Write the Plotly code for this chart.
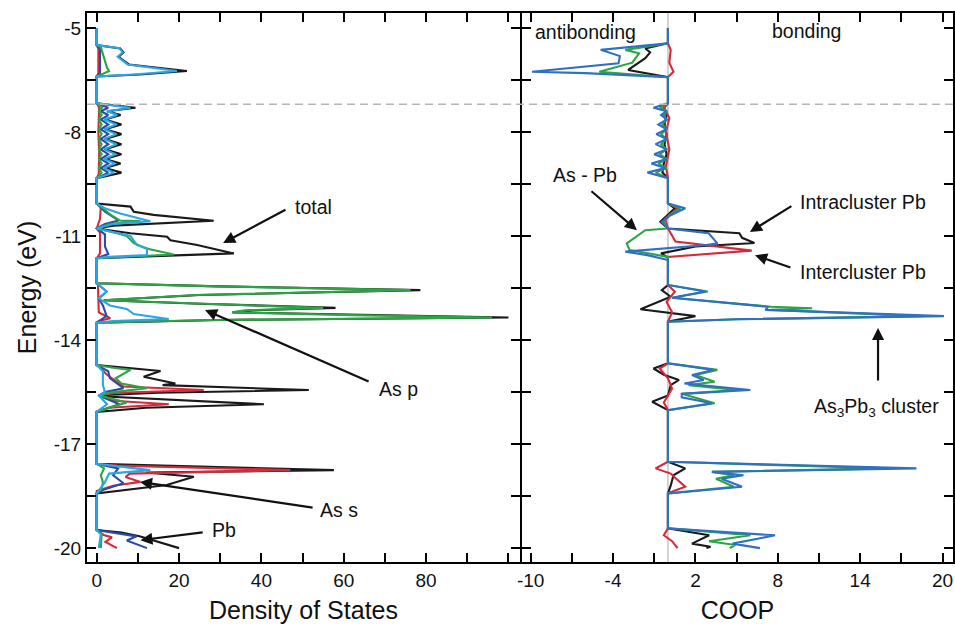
import plotly.graph_objects as go

# ---------------- axis ticks ----------------
energy_ticks = [-5, -6.5, -8, -9.5, -11, -12.5, -14, -15.5, -17, -18.5, -20]
energy_labels = ['-5', '', '-8', '', '-11', '', '-14', '', '-17', '', '-20']
dos_ticks = [0, 10, 20, 30, 40, 50, 60, 70, 80, 90, 100]
dos_labels = ['0', '', '20', '', '40', '', '60', '', '80', '', '']
coop_ticks = [-10, -7, -4, -1, 2, 5, 8, 11, 14, 17, 20]
coop_labels = ['-10', '', '-4', '', '2', '', '8', '', '14', '', '20']
fermi_level = -7.2

# ---------------- DOS curves: (energy eV, DOS) ----------------
dos_total = [(-5.0, 0), (-5.49, 0), (-5.59, 5.7), (-5.70, 6.5), (-5.83, 5.3), (-6.05, 7.8), (-6.24, 21.9), (-6.34, 10.5), (-6.40, 0),
             (-7.17, 0), (-7.30, 9.4), (-7.40, 2.5), (-7.51, 5.8), (-7.64, 2.0), (-7.78, 6.0), (-7.92, 2.0), (-8.06, 6.0), (-8.20, 2.0),
             (-8.35, 6.0), (-8.50, 2.0), (-8.64, 6.0), (-8.78, 2.0), (-8.91, 5.8), (-9.04, 2.0), (-9.17, 6.0), (-9.33, 0),
             (-10.06, 0), (-10.15, 8.2), (-10.30, 9.0), (-10.39, 13.8), (-10.56, 28.4), (-10.70, 4.0), (-10.78, 0), (-10.92, 8.2),
             (-11.02, 17.1), (-11.12, 17.9), (-11.26, 24.4), (-11.50, 33.3), (-11.58, 14.0), (-11.64, 0),
             (-12.36, 0), (-12.45, 30), (-12.56, 78.6), (-12.70, 25), (-12.85, 1.7), (-12.95, 25), (-13.07, 58), (-13.14, 38),
             (-13.20, 33), (-13.28, 65), (-13.35, 100), (-13.42, 30), (-13.50, 0),
             (-14.72, 0), (-14.89, 15.5), (-15.06, 11.4), (-15.25, 19.1), (-15.30, 16), (-15.44, 51.5), (-15.52, 15), (-15.59, 1),
             (-15.62, 1), (-15.85, 40.6), (-15.95, 12), (-16.07, 0),
             (-17.57, 0), (-17.65, 25), (-17.75, 57.6), (-17.82, 12), (-17.94, 23.6), (-18.18, 17), (-18.42, 0),
             (-19.48, 0), (-19.55, 6), (-19.66, 10.4), (-20.0, 20)]

dos_as_s = [(-5.0, 0), (-5.49, 0), (-5.60, 0.4), (-6.30, 0.4), (-6.40, 0),
            (-7.17, 0), (-7.30, 0.6), (-8.00, 0.4), (-8.60, 0.6), (-9.20, 0.5), (-9.33, 0),
            (-10.06, 0), (-10.15, 1.0), (-10.50, 0.8), (-10.78, 0), (-10.90, 0.8), (-11.50, 0.8), (-11.64, 0),
            (-12.36, 0), (-12.40, 0.3), (-13.20, 0.5), (-13.37, 3.3), (-13.45, 0.5), (-13.50, 0),
            (-14.72, 0), (-14.80, 0.8), (-15.00, 2.5), (-15.34, 6.5), (-15.44, 26), (-15.52, 5), (-15.59, 0.5), (-15.75, 4),
            (-15.85, 17.5), (-15.95, 3), (-16.07, 0),
            (-17.57, 0), (-17.62, 5), (-17.75, 47), (-17.85, 8), (-17.95, 7), (-18.09, 10.6), (-18.20, 4), (-18.35, 0),
            (-19.48, 0), (-19.62, 1.7), (-19.69, 3.7), (-19.82, 2.1), (-20.0, 4.9)]

dos_pb = [(-5.0, 0), (-5.49, 0), (-5.60, 0.8), (-6.30, 0.8), (-6.40, 0),
          (-7.17, 0), (-7.30, 2.8), (-7.40, 1.0), (-7.51, 2.8), (-7.64, 1.0), (-7.78, 2.8), (-7.92, 1.0), (-8.06, 2.8), (-8.20, 1.0),
          (-8.35, 2.8), (-8.50, 1.0), (-8.64, 2.8), (-8.78, 1.0), (-8.91, 2.8), (-9.04, 1.0), (-9.17, 2.8), (-9.33, 0),
          (-10.06, 0), (-10.30, 2.0), (-10.55, 5.3), (-10.65, 2.0), (-10.78, 0), (-10.95, 2.0), (-11.30, 2.0), (-11.52, 2.8), (-11.64, 0),
          (-12.36, 0), (-12.60, 2.4), (-12.80, 0.5), (-13.00, 1.5), (-13.30, 2.4), (-13.50, 0),
          (-14.72, 0), (-14.90, 2.8), (-15.10, 3.2), (-15.39, 6.5), (-15.50, 2.0), (-15.60, 0.5), (-15.85, 5.5), (-16.07, 0),
          (-17.57, 0), (-17.70, 5.2), (-17.90, 4.0), (-18.13, 6.5), (-18.30, 2.0), (-18.42, 0),
          (-19.48, 0), (-19.66, 9.7), (-19.78, 7.3), (-20.0, 12.2)]

dos_as_p = [(-5.0, 0), (-5.49, 0), (-5.55, 1.0), (-5.90, 1.8), (-6.15, 2.5), (-6.24, 3.0), (-6.40, 0),
            (-7.17, 0), (-7.30, 1.3), (-7.40, 0.5), (-7.51, 1.2), (-7.64, 0.5), (-7.78, 1.2), (-7.92, 0.5), (-8.06, 1.2), (-8.20, 0.5),
            (-8.35, 1.2), (-8.50, 0.5), (-8.64, 1.2), (-8.78, 0.5), (-8.91, 1.2), (-9.04, 0.5), (-9.17, 1.2), (-9.33, 0),
            (-10.06, 0), (-10.20, 1.5), (-10.40, 3.5), (-10.55, 5.6), (-10.57, 10.6), (-10.65, 3.0), (-10.78, 0), (-10.92, 5.0),
            (-11.00, 7.3), (-11.20, 9.0), (-11.35, 11.8), (-11.53, 18.7), (-11.60, 5.0), (-11.64, 0),
            (-12.36, 0), (-12.45, 29), (-12.56, 76.2), (-12.70, 24), (-12.85, 1.7), (-12.95, 24), (-13.07, 55), (-13.14, 36),
            (-13.20, 32.9), (-13.28, 62), (-13.35, 96), (-13.42, 28), (-13.50, 0),
            (-14.72, 0), (-14.80, 4.0), (-14.86, 8.2), (-15.10, 4.6), (-15.25, 6.0), (-15.39, 12.2), (-15.50, 4.0), (-15.59, 0.5),
            (-15.80, 7.3), (-15.95, 3.0), (-16.07, 0),
            (-17.57, 0), (-17.70, 1.8), (-17.90, 1.0), (-18.10, 1.5), (-18.30, 1.2), (-18.42, 0),
            (-19.48, 0), (-19.60, 1.2), (-20.0, 1.0)]

dos_as = [(-5.0, 0), (-5.49, 0), (-5.58, 5.5), (-5.70, 6.3), (-5.83, 5.1), (-6.05, 7.5), (-6.24, 19.5), (-6.34, 9.0), (-6.40, 0),
          (-7.17, 0), (-7.30, 8.2), (-7.40, 2.5), (-7.51, 5.0), (-7.64, 1.8), (-7.78, 4.8), (-7.92, 1.8), (-8.06, 4.8), (-8.20, 1.8),
          (-8.35, 4.8), (-8.50, 1.8), (-8.64, 4.6), (-8.78, 1.8), (-8.91, 4.4), (-9.04, 1.8), (-9.17, 4.2), (-9.33, 0),
          (-10.06, 0), (-10.20, 2.0), (-10.35, 5.7), (-10.57, 13.0), (-10.65, 4.0), (-10.78, 0), (-11.00, 8.2), (-11.26, 9.8),
          (-11.35, 12.2), (-11.55, 12.2), (-11.60, 3.0), (-11.64, 0),
          (-12.36, 0), (-12.60, 2.4), (-12.80, 0.5), (-13.00, 3.2), (-13.10, 7.3), (-13.25, 9.0), (-13.39, 17.5), (-13.45, 4.0), (-13.50, 0),
          (-14.72, 0), (-14.90, 1.5), (-15.30, 1.5), (-15.50, 2.0), (-15.60, 0.5), (-15.85, 2.5), (-16.07, 0),
          (-17.57, 0), (-17.75, 13.0), (-17.85, 3.0), (-18.10, 2.0), (-18.42, 0),
          (-19.48, 0), (-19.60, 1.0), (-20.0, 0.5)]

# ---------------- COOP curves: (energy eV, COOP) ----------------
coop_black = [(-5.0, 0), (-5.44, 0), (-5.59, -1.65), (-5.70, -1.3), (-5.87, -1.65), (-6.21, -2.9), (-6.42, 0),
              (-7.17, 0), (-7.30, -0.3), (-7.51, -0.1), (-7.78, -0.25), (-8.06, -0.1), (-8.35, -0.25), (-8.64, -0.1),
              (-8.91, -0.3), (-9.17, -0.4), (-9.33, 0),
              (-10.06, 0), (-10.20, 0.5), (-10.59, -0.55), (-10.78, 0), (-10.92, 5.2), (-11.05, 5.4), (-11.20, 6.3),
              (-11.30, 2.0), (-11.50, -0.5), (-11.62, 0),
              (-12.41, 0), (-12.56, -0.45), (-12.75, 0.2), (-13.11, -2.0), (-13.20, -0.3), (-13.31, 2.0), (-13.47, 0),
              (-14.67, 0), (-14.82, -1.05), (-15.00, -0.3), (-15.15, 0.8), (-15.30, 0.2), (-15.60, 0), (-15.78, -1.15), (-16.02, 0),
              (-17.51, 0), (-17.70, 1.26), (-17.90, 0.4), (-18.20, 0.2), (-18.42, 0),
              (-19.43, 0), (-19.63, 3.0), (-19.87, 1.75), (-19.96, 3.1), (-20.0, 2.8)]

coop_red = [(-5.0, 0), (-5.44, 0), (-5.63, 0.2), (-6.00, 0.1), (-6.26, 0.4), (-6.42, 0),
            (-7.17, 0), (-7.27, -0.3), (-7.60, 0.1), (-8.00, -0.15), (-8.50, 0.1), (-9.00, -0.15), (-9.33, 0),
            (-10.06, 0), (-10.20, 0.7), (-10.50, -0.2), (-10.78, 0), (-11.16, 0.55), (-11.42, 6.1), (-11.60, 0),
            (-12.41, 0), (-12.60, 0.5), (-12.90, -0.1), (-13.20, 0.3), (-13.47, 0),
            (-14.67, 0), (-14.82, -0.6), (-15.10, 0), (-15.40, 0.3), (-15.80, -0.3), (-16.02, 0),
            (-17.51, 0), (-17.70, -0.9), (-17.85, 0.2), (-18.00, 0.6), (-18.23, 1.26), (-18.42, 0),
            (-19.43, 0), (-19.63, -0.3), (-19.80, 0.3), (-20.0, 0.7)]

coop_green = [(-5.0, 0), (-5.44, 0), (-5.63, -3.1), (-5.73, -2.1), (-6.00, -2.6), (-6.26, -5.0), (-6.42, 0),
              (-7.17, 0), (-7.30, -0.6), (-7.40, -0.1), (-7.51, -0.3), (-7.64, -0.1), (-7.78, -0.4), (-7.92, -0.1), (-8.06, -0.5),
              (-8.20, -0.1), (-8.35, -0.5), (-8.50, -0.1), (-8.64, -0.6), (-8.78, -0.1), (-8.91, -0.7), (-9.04, -0.1), (-9.17, -0.9), (-9.33, 0),
              (-10.06, 0), (-10.20, 0.9), (-10.40, 0.1), (-10.59, -0.3), (-10.78, 0), (-10.83, -1.65), (-11.21, -3.0), (-11.40, -2.8), (-11.60, 0),
              (-12.41, 0), (-12.60, 2.9), (-12.78, 0.3), (-13.04, 7.5), (-13.08, 10.5), (-13.13, 7.5), (-13.31, 18.5), (-13.40, 5.0), (-13.47, 0),
              (-14.67, 0), (-14.86, 3.6), (-15.01, 2.0), (-15.20, 3.4), (-15.30, 1.5), (-15.44, 5.0), (-15.55, 1.0), (-15.82, 3.4), (-16.02, 0),
              (-17.51, 0), (-17.70, 16.0), (-17.80, 3.2), (-17.90, 4.8), (-18.00, 3.5), (-18.23, 4.8), (-18.42, 0),
              (-19.43, 0), (-19.63, 6.0), (-19.80, 3.0), (-19.91, 4.9), (-20.0, 4.5)]

coop_blue = [(-5.0, 0), (-5.44, 0), (-5.63, -4.9), (-5.81, -3.5), (-6.02, -3.6), (-6.26, -9.9), (-6.30, -6.0), (-6.42, 0),
             (-7.17, 0), (-7.30, -1.05), (-7.40, -0.1), (-7.51, -0.5), (-7.64, -0.1), (-7.78, -0.7), (-7.92, -0.1), (-8.06, -0.85),
             (-8.20, -0.1), (-8.35, -0.9), (-8.50, -0.1), (-8.64, -1.0), (-8.78, -0.1), (-8.91, -1.2), (-9.04, -0.2), (-9.17, -1.5), (-9.33, 0),
             (-10.06, 0), (-10.20, 1.26), (-10.40, 0.2), (-10.59, -0.45), (-10.78, 0), (-10.92, 2.96), (-11.21, 3.6), (-11.26, 2.8),
             (-11.45, -3.1), (-11.55, -1.5), (-11.69, 0),
             (-12.41, 0), (-12.60, 2.7), (-12.78, 0.3), (-13.04, 7.3), (-13.13, 7.1), (-13.31, 20.1), (-13.40, 5.0), (-13.47, 0),
             (-14.67, 0), (-14.86, 3.3), (-15.01, 1.75), (-15.15, 2.6), (-15.25, 1.2), (-15.44, 6.0), (-15.55, 1.0), (-15.65, 1.0),
             (-15.82, 3.2), (-16.02, 0),
             (-17.51, 0), (-17.70, 18.1), (-17.80, 3.2), (-17.90, 5.5), (-18.00, 3.9), (-18.23, 5.4), (-18.42, 0),
             (-19.43, 0), (-19.63, 7.8), (-19.87, 4.7), (-20.0, 6.7)]

# ---------------- styling ----------------
BLACK = '#1a1a1a'
RED = '#d62a3c'
GREEN = '#2ca444'
DBLUE = '#2b4ba6'
CYAN = '#2aa6e6'
CBLUE = '#2f6fc4'
FONT = 'Arial, Liberation Sans, sans-serif'

fig = go.Figure()


def add_curve(pairs, color, xaxis, yaxis, name):
    fig.add_trace(go.Scatter(
        x=[p[1] for p in pairs], y=[p[0] for p in pairs],
        mode='lines', line=dict(color=color, width=2.1),
        xaxis=xaxis, yaxis=yaxis, name=name, showlegend=False, hoverinfo='skip'))


add_curve(dos_total, BLACK, 'x', 'y', 'total')
add_curve(dos_as_s, RED, 'x', 'y', 'As s')
add_curve(dos_pb, DBLUE, 'x', 'y', 'Pb')
add_curve(dos_as_p, GREEN, 'x', 'y', 'As p')
add_curve(dos_as, CYAN, 'x', 'y', 'As')

add_curve(coop_black, BLACK, 'x2', 'y2', 'COOP 1')
add_curve(coop_red, RED, 'x2', 'y2', 'Intercluster Pb')
add_curve(coop_green, GREEN, 'x2', 'y2', 'As - Pb')
add_curve(coop_blue, CBLUE, 'x2', 'y2', 'As3Pb3 cluster')

axis_common = dict(showline=True, linecolor='black', linewidth=2, mirror='ticks',
                   ticks='inside', ticklen=9, tickwidth=2, tickcolor='black',
                   showgrid=False, zeroline=False, automargin=False,
                   tickfont=dict(family=FONT, size=19, color='#111'))

fig.update_layout(
    width=955, height=627, template='none',
    paper_bgcolor='white', plot_bgcolor='white',
    margin=dict(l=87, r=2, t=13, b=65, autoexpand=False),
    showlegend=False,
    xaxis=dict(domain=[0, 0.5], range=[-2.36, 102.8], tickmode='array',
               tickvals=dos_ticks, ticktext=dos_labels,
               title=dict(text='Density of States', font=dict(family=FONT, size=25, color='#111'), standoff=12),
               **axis_common),
    xaxis2=dict(domain=[0.5023, 1], range=[-10.63, 20.76], tickmode='array',
                tickvals=coop_ticks, ticktext=coop_labels, anchor='y2',
                title=dict(text='COOP', font=dict(family=FONT, size=25, color='#111'), standoff=12),
                **axis_common),
    yaxis=dict(domain=[0, 1], range=[-20.40, -4.567], tickmode='array',
               tickvals=energy_ticks, ticktext=energy_labels,
               title=dict(text='Energy (eV)', font=dict(family=FONT, size=25, color='#111'), standoff=10),
               **axis_common),
    yaxis2=dict(domain=[0, 1], range=[-20.40, -4.567], tickmode='array', anchor='x2',
                tickvals=energy_ticks, ticktext=energy_labels, showticklabels=False,
                **axis_common),
)

# Fermi level and COOP zero line
fig.add_shape(type='line', xref='paper', x0=0, x1=1, yref='y', y0=fermi_level, y1=fermi_level,
              line=dict(color='#bdb3b3', width=1.5, dash='8px,5px'), layer='above')
fig.add_shape(type='line', xref='x2', x0=0, x1=0, yref='paper', y0=0, y1=1,
              line=dict(color='#c4c4c4', width=1.5), layer='below')

afont = dict(family=FONT, size=19.5, color='#111')


def arrow(xh, yh, xt, yt, xr, yr):
    fig.add_annotation(x=xh, y=yh, ax=xt, ay=yt, xref=xr, yref=yr, axref=xr, ayref=yr,
                       text='', showarrow=True, arrowhead=2, arrowsize=1.1, arrowwidth=2.2,
                       arrowcolor='#111', standoff=0, startstandoff=0)


def label(x, y, text, xr, yr, xanchor='left'):
    fig.add_annotation(x=x, y=y, xref=xr, yref=yr, text=text, showarrow=False,
                       xanchor=xanchor, yanchor='middle', font=afont)


# DOS panel labels
arrow(30.7, -11.20, 46.2, -10.22, 'x', 'y')
label(47.7, -10.16, 'total', 'x', 'y')
arrow(26.3, -13.13, 66.4, -15.21, 'x', 'y')
label(68.1, -15.41, 'As p', 'x', 'y')
arrow(10.5, -18.09, 52.8, -18.84, 'x', 'y')
label(53.8, -18.90, 'As s', 'x', 'y')
arrow(10.6, -19.77, 26.1, -19.54, 'x', 'y')
label(27.6, -19.48, 'Pb', 'x', 'y')

# COOP panel labels
label(-9.83, -5.12, 'antibonding', 'x2', 'y2')
label(7.43, -5.09, 'bonding', 'x2', 'y2')
arrow(-2.26, -10.83, -5.68, -9.67, 'x2', 'y2')
label(-6.05, -9.24, 'As - Pb', 'x2', 'y2', 'center')
arrow(5.97, -10.88, 9.1, -10.11, 'x2', 'y2')
label(9.47, -10.02, 'Intracluster Pb', 'x2', 'y2')
arrow(6.34, -11.55, 9.03, -11.92, 'x2', 'y2')
label(9.47, -12.04, 'Intercluster Pb', 'x2', 'y2')
arrow(15.3, -13.65, 15.3, -15.21, 'x2', 'y2')
label(15.2, -15.93, 'As<sub>3</sub>Pb<sub>3</sub> cluster', 'x2', 'y2', 'center')

# remove the browser's default page margin so the 955x627 figure fills the window exactly
fig.write_html('out.html',
               config={'displayModeBar': False},
               post_script="document.body.style.margin='0px';"
                           "document.body.style.overflow='hidden';"
                           "document.documentElement.style.overflow='hidden';")
